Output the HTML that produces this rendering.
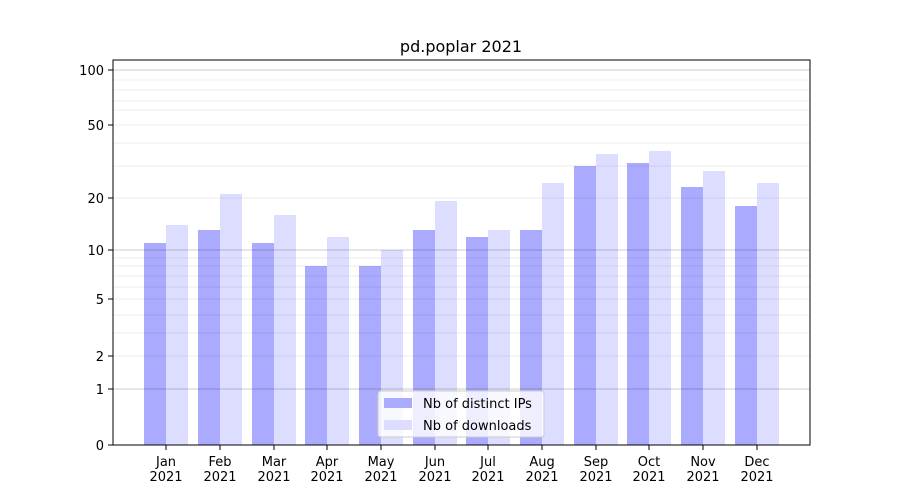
<!DOCTYPE html>
<html><head><style>body{margin:0;background:#fff}svg{display:block}text{font-family:"DejaVu Sans","Liberation Sans",sans-serif;font-size:13px;fill:#000}</style></head>
<body>
<svg width="900" height="500" xmlns="http://www.w3.org/2000/svg">
<rect width="900" height="500" fill="#fff"/>
<g fill="#aaaaff">
<rect x="144" y="243" width="22" height="202"/><rect x="198" y="230" width="22" height="215"/><rect x="252" y="243" width="22" height="202"/><rect x="305" y="266" width="22" height="179"/><rect x="359" y="266" width="22" height="179"/><rect x="413" y="230" width="22" height="215"/><rect x="466" y="237" width="22" height="208"/><rect x="520" y="230" width="22" height="215"/><rect x="574" y="166" width="22" height="279"/><rect x="627" y="163" width="22" height="282"/><rect x="681" y="187" width="22" height="258"/><rect x="735" y="206" width="22" height="239"/>
</g>
<g fill="#ddddff">
<rect x="166" y="225" width="22" height="220"/><rect x="220" y="194" width="22" height="251"/><rect x="274" y="215" width="22" height="230"/><rect x="327" y="237" width="22" height="208"/><rect x="381" y="250" width="22" height="195"/><rect x="435" y="201" width="22" height="244"/><rect x="488" y="230" width="22" height="215"/><rect x="542" y="183" width="22" height="262"/><rect x="596" y="154" width="22" height="291"/><rect x="649" y="151" width="22" height="294"/><rect x="703" y="171" width="22" height="274"/><rect x="757" y="183" width="22" height="262"/>
</g>
<g stroke="#000" stroke-opacity="0.07" stroke-width="1">
<line x1="113" x2="810" y1="80" y2="80"/><line x1="113" x2="810" y1="90" y2="90"/><line x1="113" x2="810" y1="101" y2="101"/><line x1="113" x2="810" y1="110" y2="110"/><line x1="113" x2="810" y1="125" y2="125"/><line x1="113" x2="810" y1="143" y2="143"/><line x1="113" x2="810" y1="166" y2="166"/><line x1="113" x2="810" y1="198" y2="198"/>
<line x1="113" x2="810" y1="258" y2="258"/><line x1="113" x2="810" y1="266" y2="266"/><line x1="113" x2="810" y1="276" y2="276"/><line x1="113" x2="810" y1="287" y2="287"/><line x1="113" x2="810" y1="299" y2="299"/><line x1="113" x2="810" y1="315" y2="315"/><line x1="113" x2="810" y1="333" y2="333"/><line x1="113" x2="810" y1="356" y2="356"/>
</g>
<g stroke="#000" stroke-opacity="0.2"><line x1="113" x2="810" y1="70" y2="70"/><line x1="113" x2="810" y1="250" y2="250"/><line x1="113" x2="810" y1="389" y2="389"/></g>
<rect x="113" y="60" width="697" height="385" fill="none" stroke="#000"/>
<g stroke="#000">
<line x1="108" x2="113" y1="70" y2="70"/><line x1="108" x2="113" y1="125" y2="125"/><line x1="108" x2="113" y1="198" y2="198"/><line x1="108" x2="113" y1="250" y2="250"/><line x1="108" x2="113" y1="299" y2="299"/><line x1="108" x2="113" y1="356" y2="356"/><line x1="108" x2="113" y1="389" y2="389"/><line x1="108" x2="113" y1="445" y2="445"/>
</g>
<g text-anchor="end">
<text x="104" y="75">100</text><text x="104" y="130">50</text><text x="104" y="203">20</text><text x="104" y="255">10</text><text x="104" y="304">5</text><text x="104" y="361">2</text><text x="104" y="394">1</text><text x="104" y="450">0</text>
</g>
<text x="461" y="52" text-anchor="middle" style="font-size:16px">pd.poplar 2021</text>
<g text-anchor="middle">
<g transform="translate(166,0)"><line y1="445" y2="450" stroke="#000"/><text y="466">Jan</text><text y="481">2021</text></g>
<g transform="translate(220,0)"><line y1="445" y2="450" stroke="#000"/><text y="466">Feb</text><text y="481">2021</text></g>
<g transform="translate(274,0)"><line y1="445" y2="450" stroke="#000"/><text y="466">Mar</text><text y="481">2021</text></g>
<g transform="translate(327,0)"><line y1="445" y2="450" stroke="#000"/><text y="466">Apr</text><text y="481">2021</text></g>
<g transform="translate(381,0)"><line y1="445" y2="450" stroke="#000"/><text y="466">May</text><text y="481">2021</text></g>
<g transform="translate(435,0)"><line y1="445" y2="450" stroke="#000"/><text y="466">Jun</text><text y="481">2021</text></g>
<g transform="translate(488,0)"><line y1="445" y2="450" stroke="#000"/><text y="466">Jul</text><text y="481">2021</text></g>
<g transform="translate(542,0)"><line y1="445" y2="450" stroke="#000"/><text y="466">Aug</text><text y="481">2021</text></g>
<g transform="translate(596,0)"><line y1="445" y2="450" stroke="#000"/><text y="466">Sep</text><text y="481">2021</text></g>
<g transform="translate(649,0)"><line y1="445" y2="450" stroke="#000"/><text y="466">Oct</text><text y="481">2021</text></g>
<g transform="translate(703,0)"><line y1="445" y2="450" stroke="#000"/><text y="466">Nov</text><text y="481">2021</text></g>
<g transform="translate(757,0)"><line y1="445" y2="450" stroke="#000"/><text y="466">Dec</text><text y="481">2021</text></g>
</g>
<rect x="378" y="391" width="166" height="46" rx="3" fill="#fff" fill-opacity="0.8" stroke="#ccc"/>
<rect x="384" y="398" width="28" height="10" fill="#aaaaff"/>
<rect x="384" y="420" width="28" height="10" fill="#ddddff"/>
<text x="423" y="408">Nb of distinct IPs</text>
<text x="423" y="430">Nb of downloads</text>
</svg>
</body></html>
